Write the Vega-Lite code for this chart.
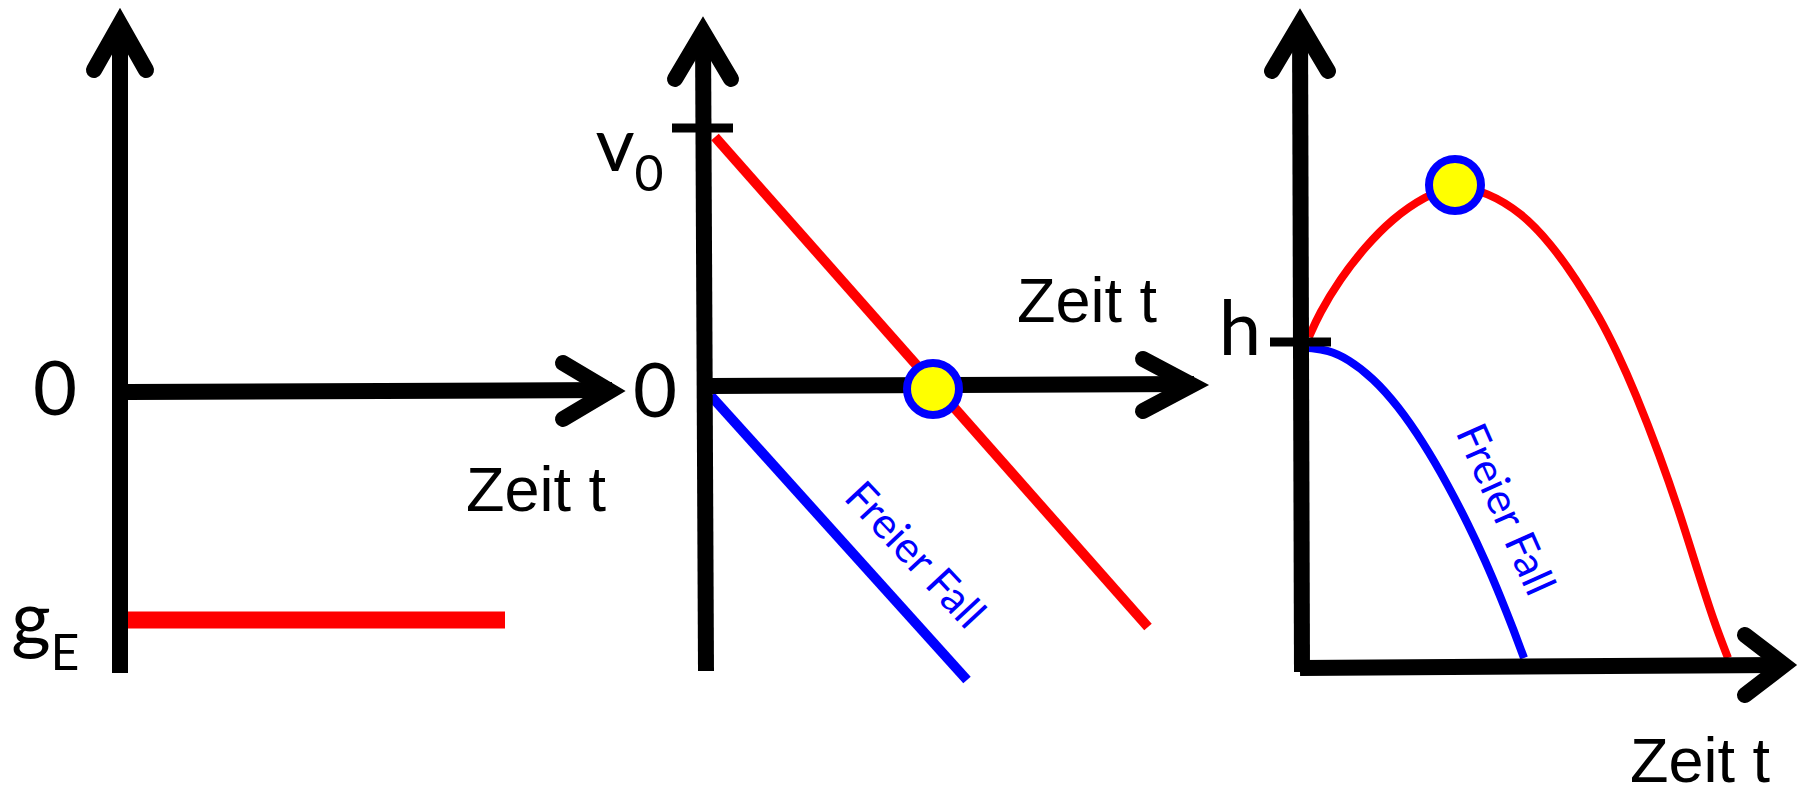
{
  "$schema": "https://vega.github.io/schema/vega-lite/v6.json",
  "autosize": {"type": "none"},
  "width": 1798,
  "height": 787,
  "padding": 0,
  "background": "white",
  "config": {"view": {"stroke": null}},
  "datasets": {
    "shafts": [
      {"x": 120, "y": 22, "x2": 120, "y2": 673},
      {"x": 128, "y": 392, "x2": 612, "y2": 390},
      {"x": 703, "y": 30, "x2": 706, "y2": 671},
      {"x": 711, "y": 386, "x2": 1194, "y2": 384},
      {"x": 1300, "y": 22, "x2": 1302, "y2": 672},
      {"x": 1300, "y": 668, "x2": 1786, "y2": 665}
    ],
    "heads": [
      {"id": "a1", "o": 1, "x": 94, "y": 70}, {"id": "a1", "o": 2, "x": 120, "y": 24}, {"id": "a1", "o": 3, "x": 146, "y": 70},
      {"id": "a2", "o": 1, "x": 563, "y": 363}, {"id": "a2", "o": 2, "x": 610, "y": 391}, {"id": "a2", "o": 3, "x": 563, "y": 419},
      {"id": "a3", "o": 1, "x": 675, "y": 79}, {"id": "a3", "o": 2, "x": 703, "y": 32}, {"id": "a3", "o": 3, "x": 731, "y": 79},
      {"id": "a4", "o": 1, "x": 1143, "y": 359}, {"id": "a4", "o": 2, "x": 1192, "y": 385}, {"id": "a4", "o": 3, "x": 1143, "y": 411},
      {"id": "a5", "o": 1, "x": 1272, "y": 71}, {"id": "a5", "o": 2, "x": 1300, "y": 24}, {"id": "a5", "o": 3, "x": 1328, "y": 71},
      {"id": "a6", "o": 1, "x": 1745, "y": 635}, {"id": "a6", "o": 2, "x": 1784, "y": 665}, {"id": "a6", "o": 3, "x": 1745, "y": 695}
    ],
    "ticks": [
      {"x": 672, "x2": 733, "y": 128},
      {"x": 1270, "x2": 1331, "y": 342}
    ],
    "accel": [{"x": 128, "x2": 505, "y": 620, "y2": 620}],
    "velRed": [{"x": 715, "y": 137, "x2": 1148, "y2": 627}],
    "velBlue": [{"x": 711, "y": 396, "x2": 967, "y2": 680}],
    "heightRed": [
      {"x": 1309, "y": 337}, {"x": 1319, "y": 314}, {"x": 1340, "y": 279}, {"x": 1365, "y": 247},
      {"x": 1392, "y": 219}, {"x": 1425, "y": 196}, {"x": 1455, "y": 185}, {"x": 1487, "y": 192},
      {"x": 1522, "y": 213}, {"x": 1551, "y": 244}, {"x": 1576, "y": 279}, {"x": 1600, "y": 318},
      {"x": 1617, "y": 352}, {"x": 1635, "y": 392}, {"x": 1660, "y": 456}, {"x": 1680, "y": 514},
      {"x": 1698, "y": 572}, {"x": 1714, "y": 622}, {"x": 1728, "y": 658}
    ],
    "heightBlue": [
      {"x": 1309, "y": 348}, {"x": 1328, "y": 350}, {"x": 1348, "y": 359}, {"x": 1373, "y": 378},
      {"x": 1398, "y": 406}, {"x": 1423, "y": 442}, {"x": 1448, "y": 485}, {"x": 1468, "y": 524},
      {"x": 1485, "y": 560}, {"x": 1501, "y": 598}, {"x": 1514, "y": 631}, {"x": 1524, "y": 658}
    ],
    "balls": [{"x": 933, "y": 389}, {"x": 1455, "y": 185}],
    "bigLabels": [
      {"x": 55, "y": 415, "t": "0"},
      {"x": 655, "y": 417, "t": "0"},
      {"x": 615, "y": 171, "t": "v"},
      {"x": 31, "y": 645, "t": "g"},
      {"x": 1240, "y": 355, "t": "h"}
    ],
    "subLabels": [
      {"x": 649, "y": 191, "t": "0"},
      {"x": 65, "y": 670, "t": "E"}
    ],
    "timeLabels": [
      {"x": 536, "y": 511, "t": "Zeit t"},
      {"x": 1087, "y": 322, "t": "Zeit t"},
      {"x": 1700, "y": 782, "t": "Zeit t"}
    ],
    "fall2": [{"x": 914, "y": 556, "t": "Freier Fall"}],
    "fall3": [{"x": 1504, "y": 510, "t": "Freier Fall"}]
  },
  "encoding": {
    "x": {"field": "x", "type": "quantitative", "scale": {"domain": [0, 1798], "nice": false, "zero": false}, "axis": null},
    "y": {"field": "y", "type": "quantitative", "scale": {"domain": [787, 0], "nice": false, "zero": false}, "axis": null}
  },
  "layer": [
    {
      "data": {"name": "heightRed"},
      "mark": {"type": "line", "color": "#ff0000", "strokeWidth": 8, "interpolate": "basis"},
      "encoding": {}
    },
    {
      "data": {"name": "heightBlue"},
      "mark": {"type": "line", "color": "#0000ff", "strokeWidth": 8, "interpolate": "basis"},
      "encoding": {}
    },
    {
      "data": {"name": "accel"},
      "mark": {"type": "rule", "color": "#ff0000", "strokeWidth": 17, "strokeCap": "butt"},
      "encoding": {"x2": {"field": "x2"}, "y2": {"field": "y2"}}
    },
    {
      "data": {"name": "velRed"},
      "mark": {"type": "rule", "color": "#ff0000", "strokeWidth": 10, "strokeCap": "butt"},
      "encoding": {"x2": {"field": "x2"}, "y2": {"field": "y2"}}
    },
    {
      "data": {"name": "velBlue"},
      "mark": {"type": "rule", "color": "#0000ff", "strokeWidth": 10, "strokeCap": "butt"},
      "encoding": {"x2": {"field": "x2"}, "y2": {"field": "y2"}}
    },
    {
      "data": {"name": "shafts"},
      "mark": {"type": "rule", "color": "#000000", "strokeWidth": 16, "strokeCap": "butt"},
      "encoding": {"x2": {"field": "x2"}, "y2": {"field": "y2"}}
    },
    {
      "data": {"name": "heads"},
      "mark": {"type": "line", "color": "#000000", "strokeWidth": 16, "strokeCap": "round", "strokeJoin": "miter"},
      "encoding": {
        "detail": {"field": "id", "type": "nominal"},
        "order": {"field": "o", "type": "quantitative"}
      }
    },
    {
      "data": {"name": "ticks"},
      "mark": {"type": "rule", "color": "#000000", "strokeWidth": 9, "strokeCap": "butt"},
      "encoding": {"x2": {"field": "x2"}}
    },
    {
      "data": {"name": "balls"},
      "mark": {"type": "point", "shape": "circle", "filled": true, "fill": "#ffff00", "stroke": "#0000ff", "strokeWidth": 8, "size": 2704, "opacity": 1, "fillOpacity": 1, "strokeOpacity": 1},
      "encoding": {}
    },
    {
      "data": {"name": "bigLabels"},
      "mark": {"type": "text", "font": "Lato", "fontSize": 76, "color": "#000000", "align": "center", "baseline": "alphabetic"},
      "encoding": {"text": {"field": "t"}}
    },
    {
      "data": {"name": "subLabels"},
      "mark": {"type": "text", "font": "Lato", "fontSize": 50, "color": "#000000", "align": "center", "baseline": "alphabetic"},
      "encoding": {"text": {"field": "t"}}
    },
    {
      "data": {"name": "timeLabels"},
      "mark": {"type": "text", "font": "Liberation Sans", "fontSize": 63, "color": "#000000", "align": "center", "baseline": "alphabetic"},
      "encoding": {"text": {"field": "t"}}
    },
    {
      "data": {"name": "fall2"},
      "mark": {"type": "text", "font": "Lato", "fontSize": 43, "color": "#0000ff", "align": "center", "baseline": "middle", "angle": 47},
      "encoding": {"text": {"field": "t"}}
    },
    {
      "data": {"name": "fall3"},
      "mark": {"type": "text", "font": "Lato", "fontSize": 43, "color": "#0000ff", "align": "center", "baseline": "middle", "angle": 66},
      "encoding": {"text": {"field": "t"}}
    }
  ]
}
